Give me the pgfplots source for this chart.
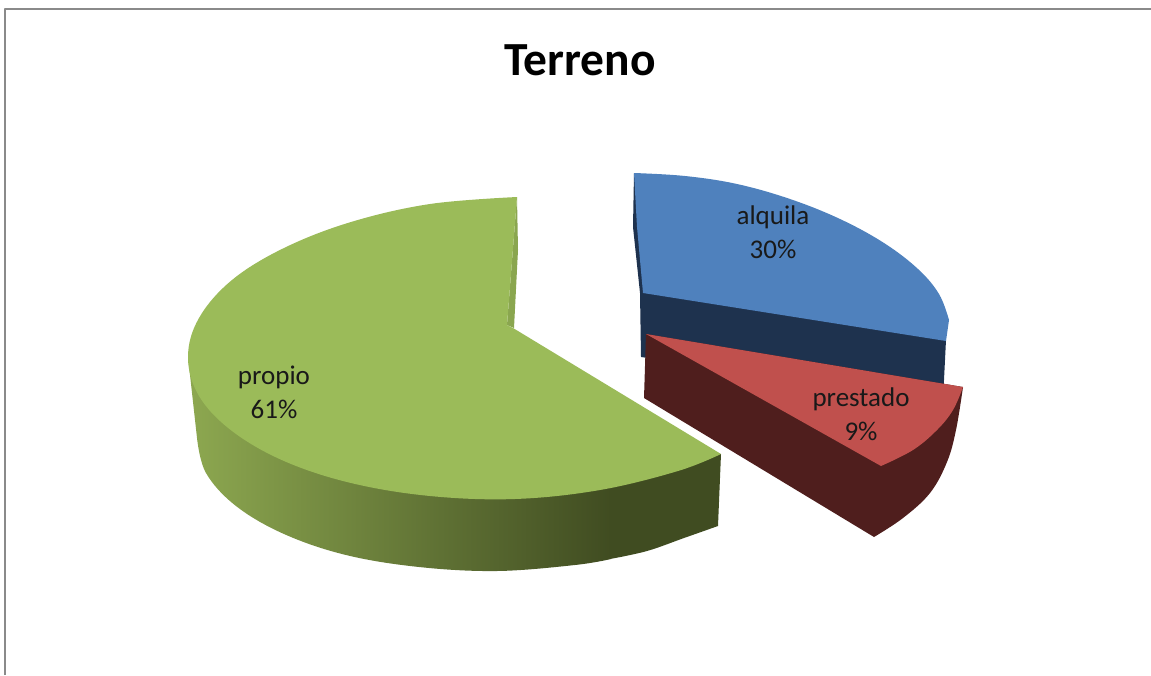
\documentclass[border=0pt]{standalone}
\usepackage{pgfplots}
\pgfplotsset{compat=1.18}
\usepackage{fontspec}
\setmainfont{Carlito}
\definecolor{bluetop}{HTML}{4F81BD}
\definecolor{blueside}{HTML}{1E324E}
\definecolor{redtop}{HTML}{C0504D}
\definecolor{redside}{HTML}{4F1E1D}
\definecolor{greentop}{HTML}{9BBB59}
\definecolor{greenleft}{HTML}{8DA850}
\definecolor{greendark}{HTML}{404C21}
\definecolor{greensliver}{HTML}{8AA64F}
\definecolor{frame}{HTML}{8A8A8A}
\begin{document}
\begin{tikzpicture}
\begin{axis}[
  hide axis, scale only axis, width=1151pt, height=675pt,
  xmin=0, xmax=1151, ymin=0, ymax=675, y dir=reverse,
  clip=true,
  every axis plot/.append style={no markers, line join=round},
]
% frame
\addplot[draw=frame, line width=1.6pt] coordinates {(5,675)(5,9)(1151,9)};
% alquila
\addplot[draw=none, fill=blueside] coordinates {(946,340)(943,400)(641,357)(640,293)(633,227)(634,173)(650,200)} -- cycle;
\addplot[draw=none, fill=bluetop, smooth, tension=0.62] coordinates {(634,173)(685,176)(737,184)(790,199)(840,219)(884,243)(918,269)(939,294)(949,320)} -- (axis cs:946,341) -- (axis cs:643,293) -- (axis cs:637,227) -- cycle;
% prestado
\addplot[draw=none, fill=redside, smooth, tension=0.62] coordinates {(963,387)(956,430)(947,462)(930,493)(903,518)(874,537)} -- (axis cs:644,398) -- (axis cs:646,334) -- cycle;
\addplot[draw=none, fill=redtop, smooth, tension=0.62] coordinates {(963,387)(953,410)(937,430)(913,450)(881,466)} -- (axis cs:646,334) -- cycle;
% propio
\addplot[draw=none, left color=greenleft, right color=greendark, smooth, tension=0.61] coordinates {(197,438)(206,473)(236,506)(284,534)(346,555)(419,567)(497,571)(575,565)(611,559)} -- (axis cs:611,470) -- (axis cs:188,357) -- cycle;
\addplot[draw=none, fill=greendark, smooth, tension=0.61] coordinates {(610,559)(647,551)(684,538)(718,526)} -- (axis cs:721,454) -- (axis cs:610,470) -- cycle;
\addplot[draw=none, fill=greensliver] coordinates {(517,197)(518,250)(514,328)(507,325)} -- cycle;
\addplot[draw=none, fill=greentop, smooth, tension=0.61] coordinates {(517,197)(430,204)(351,222)(284,248)(232,280)(199,318)(188,357)(199,396)(232,431)(284,461)(351,483)(430,496)(515,499)(600,490)(678,471)(721,454)} -- (axis cs:513,328) -- (axis cs:507,325) -- cycle;
% labels
\node[font=\bfseries\fontsize{47.5}{50}\selectfont, text=black] at (axis cs:580,60) {Terreno};
\node[font=\fontsize{27}{30}\selectfont, text=black!90] at (axis cs:773,217) {alquila};
\node[font=\fontsize{27}{30}\selectfont, text=black!90] at (axis cs:773,249) {30\%};
\node[font=\fontsize{27}{30}\selectfont, text=black!90] at (axis cs:861,399) {prestado};
\node[font=\fontsize{27}{30}\selectfont, text=black!90] at (axis cs:861,431) {9\%};
\node[font=\fontsize{27}{30}\selectfont, text=black!90] at (axis cs:274,377) {propio};
\node[font=\fontsize{27}{30}\selectfont, text=black!90] at (axis cs:274,409) {61\%};
\end{axis}
\path[use as bounding box] (0,0) rectangle (1151pt,675pt);
\end{tikzpicture}
\end{document}
